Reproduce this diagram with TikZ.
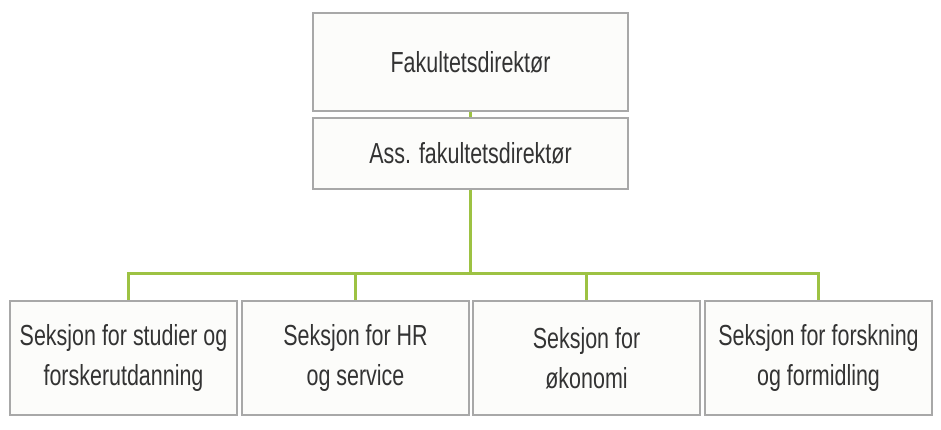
\documentclass[tikz,border=0pt]{standalone}
\usepackage{fontspec}
\setmainfont[FakeStretch=0.74]{Liberation Sans}
\definecolor{boxline}{HTML}{A8A8A8}
\definecolor{boxfill}{HTML}{FCFCFA}
\definecolor{orggreen}{HTML}{9DC243}
\tikzset{
  unit/.style={draw=boxline, fill=boxfill, line width=1.2pt, align=center,
    font=\fontsize{29}{40}\selectfont, text=black!80, inner sep=0pt},
  link/.style={draw=orggreen, line width=3pt}
}
\begin{document}
\begin{tikzpicture}[x=1pt,y=-1pt]
\useasboundingbox (0,0) rectangle (941,430);
\node[unit, minimum width=315, minimum height=98] (dir) at (470.5,62) {Fakultetsdirektør};
\node[unit, minimum width=315, minimum height=71] (ass) at (470.5,153.5) {Ass. fakultetsdirektør};
\node[unit, minimum width=227, minimum height=114] (s1) at (123.5,358) {Seksjon for studier og\\forskerutdanning};
\node[unit, minimum width=227, minimum height=114] (s2) at (355.5,358) {Seksjon for HR\\og service};
\node[unit, minimum width=227, minimum height=114] (s3) at (586.5,358) {Seksjon for\\økonomi};
\node[unit, minimum width=227, minimum height=114] (s4) at (818.5,358) {Seksjon for forskning\\og formidling};
\coordinate (bus) at (470.5,273);
% connectors
\draw[link] (dir.south) -- (ass.north);
\draw[link] (ass.south) -- (bus);
\draw[link] (bus) -| ([xshift=4.5]s1.north);
\draw[link] (bus) -| (s2.north);
\draw[link] (bus) -| (s3.north);
\draw[link] (bus) -| (s4.north);
\end{tikzpicture}
\end{document}
